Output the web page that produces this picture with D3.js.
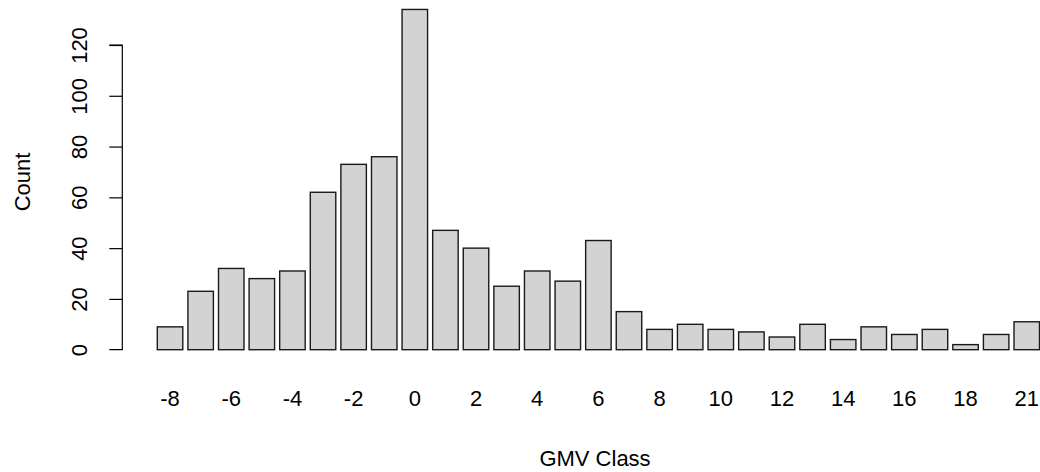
<!DOCTYPE html>
<html>
<head>
<meta charset="utf-8">
<script src="https://cdn.jsdelivr.net/npm/d3@7"></script>
<style>
  html, body { margin: 0; padding: 0; background: #fff; }
  svg text { font-family: "Liberation Sans", Arial, sans-serif; fill: #000; }
</style>
</head>
<body>
<svg id="chart" width="1040" height="472"></svg>
<script>
// GMV class counts
const classes = [-8, -7, -6, -5, -4, -3, -2, -1, 0, 1, 2, 3, 4, 5, 6, 7, 8, 9, 10, 11, 12, 13, 14, 15, 16, 17, 18, 19, 21];
const counts  = [9, 23, 32, 28, 31, 62, 73, 76, 134, 47, 40, 25, 31, 27, 43, 15, 8, 10, 8, 7, 5, 10, 4, 9, 6, 8, 2, 6, 11];
const yTicks  = [0, 20, 40, 60, 80, 100, 120];
// every other class gets a label, as the axis thins them to avoid overlap
const xTickLabels = ["-8", "-6", "-4", "-2", "0", "2", "4", "6", "8", "10", "12", "14", "16", "18", "21"];

const svg = d3.select("#chart");
const fontSize = 22;

const x = d3.scaleBand()
  .domain(classes.map(String))
  .range([157.3, 1039.5])
  .paddingInner(0.2 / 1.2)
  .paddingOuter(0);

const y = d3.scaleLinear()
  .domain([0, 120])
  .range([349.7, 45]);

// bars
svg.append("g")
  .selectAll("rect")
  .data(classes.map((c, i) => ({ c: String(c), v: counts[i] })))
  .join("rect")
  .attr("x", d => x(d.c))
  .attr("y", d => y(d.v))
  .attr("width", x.bandwidth())
  .attr("height", d => y(0) - y(d.v))
  .attr("fill", "#d3d3d3")
  .attr("stroke", "#1a1a1a")
  .attr("stroke-width", 1.4);

// y axis, labels rotated parallel to the axis
const yAxis = svg.append("g")
  .attr("transform", "translate(122.3,0)")
  .call(d3.axisLeft(y).tickValues(yTicks).tickSize(13).tickFormat(d3.format("d")));
yAxis.select(".domain").attr("d", `M-13,${y(0)}H0V${y(120)}H-13`).attr("stroke", "#000").attr("stroke-width", 1.2);
yAxis.selectAll(".tick line").attr("stroke", "#000").attr("stroke-width", 1.2);
yAxis.selectAll(".tick text")
  .attr("font-size", fontSize)
  .attr("x", 0).attr("y", 0)
  .attr("text-anchor", "middle")
  .attr("dy", "0.35em")
  .attr("transform", "translate(-43,0) rotate(-90)");
yAxis.selectAll(".tick").filter(d => d === 0).select("line").remove();

// x labels under the labelled classes (no axis line)
const labelled = new Set(xTickLabels);
svg.append("g")
  .selectAll("text")
  .data(classes.map(String).filter(c => labelled.has(c)))
  .join("text")
  .attr("x", d => x(d) + x.bandwidth() / 2)
  .attr("y", 406)
  .attr("text-anchor", "middle")
  .attr("font-size", fontSize)
  .text(d => d);

// axis titles
svg.append("text")
  .attr("x", 595).attr("y", 466)
  .attr("text-anchor", "middle")
  .attr("font-size", fontSize)
  .text("GMV Class");

svg.append("text")
  .attr("transform", "translate(30,182) rotate(-90)")
  .attr("text-anchor", "middle")
  .attr("font-size", fontSize)
  .text("Count");
</script>
</body>
</html>
